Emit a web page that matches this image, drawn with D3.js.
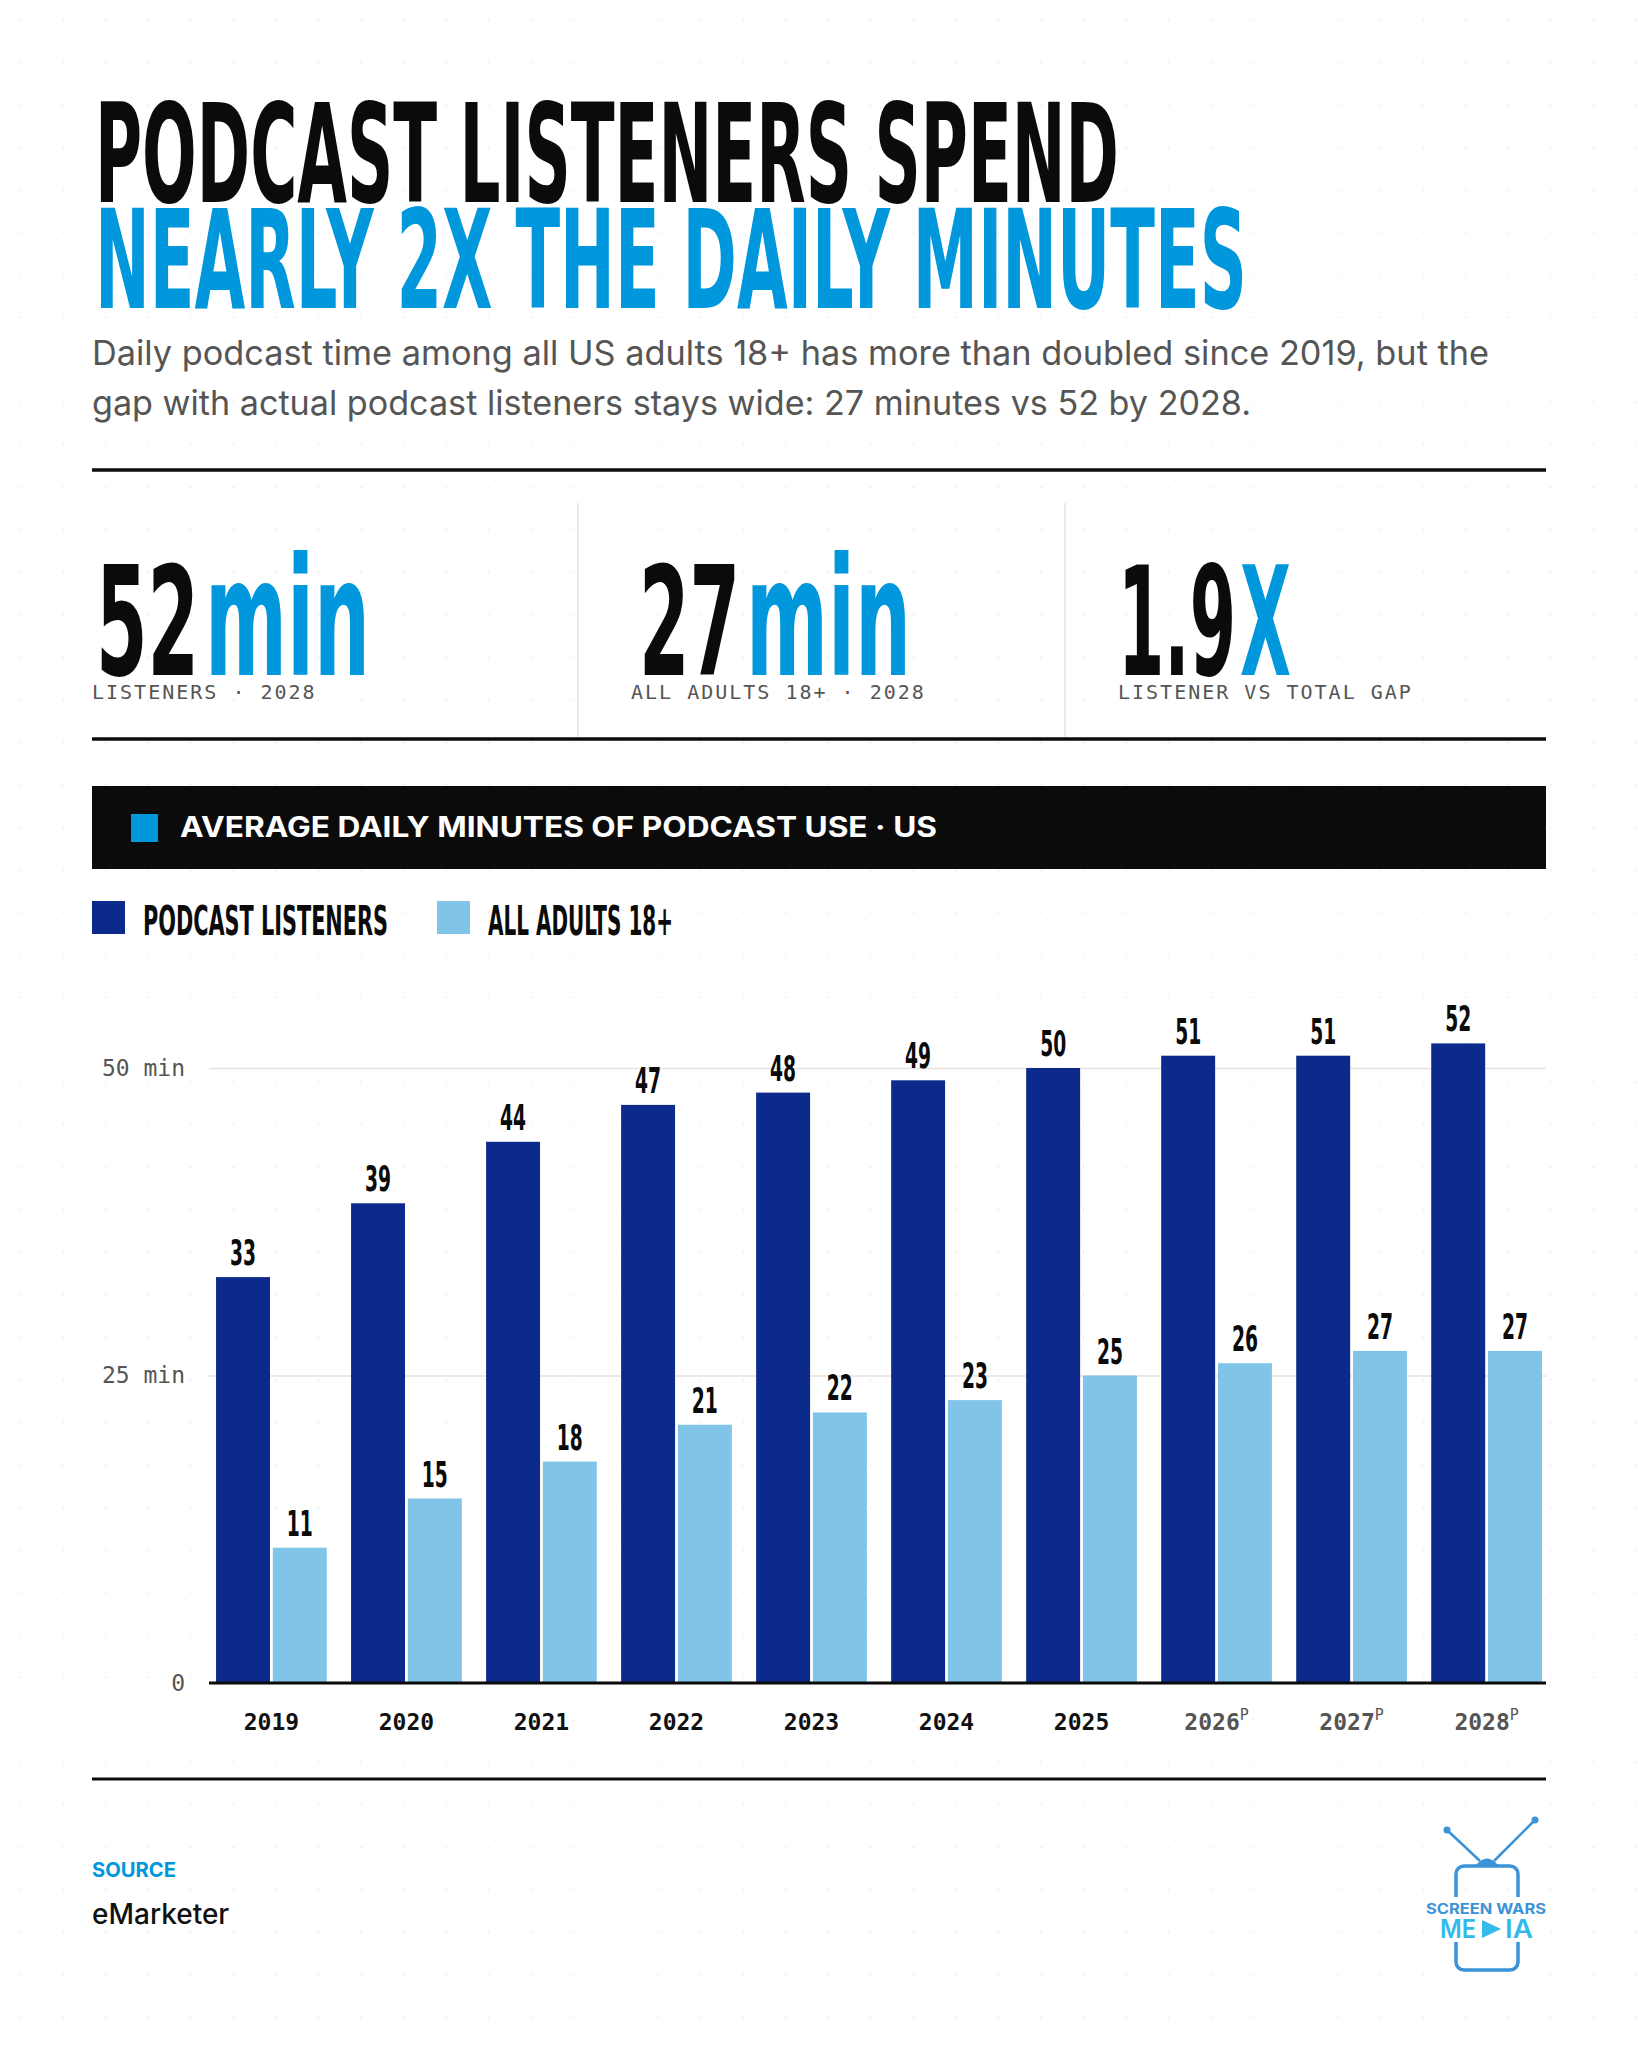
<!DOCTYPE html>
<html>
<head>
<meta charset="utf-8">
<script src="https://cdn.jsdelivr.net/npm/d3@7"></script>
<style>
  html, body { margin: 0; padding: 0; background: #fff; }
  svg { display: block; }
</style>
</head>
<body>
<svg id="chart" width="1638" height="2048"></svg>
<script>
"use strict";

// data
const years = ["2019", "2020", "2021", "2022", "2023", "2024", "2025", "2026", "2027", "2028"];
const projected = [false, false, false, false, false, false, false, true, true, true];
const listeners = [33, 39, 44, 47, 48, 49, 50, 51, 51, 52];
const allAdults = [11, 15, 18, 21, 22, 23, 25, 26, 27, 27];
const seriesNames = ["PODCAST LISTENERS", "ALL ADULTS 18+"];
const seriesColors = ["#0b2a8c", "#80c4e8"];
const yTicks = [0, 25, 50];

const kpiValues = ["52", "27", "1.9"];
const kpiUnits = ["min", "min", "X"];
const kpiLabels = ["LISTENERS · 2028", "ALL ADULTS 18+ · 2028", "LISTENER VS TOTAL GAP"];

const COND = "'Liberation Sans Narrow','DejaVu Sans Condensed','Roboto',sans-serif";
const SANS = "Inter,'Noto Sans',Roboto,sans-serif";
const MONO = "'DejaVu Sans Mono','Liberation Mono',monospace";
const BLUE = "#0097dd";
const INK = "#0b0b0b";

const svg = d3.select("#chart");
const L = 92, R = 1546;

// faint dot background
const defs = svg.append("defs");
defs.append("pattern")
  .attr("id", "dots")
  .attr("patternUnits", "userSpaceOnUse")
  .attr("x", 0).attr("y", 0)
  .attr("width", 42.5).attr("height", 42.5)
  .append("circle")
  .attr("cx", 21).attr("cy", 20).attr("r", 1.1)
  .attr("fill", "#efefef");
svg.append("rect").attr("width", 1638).attr("height", 2048).attr("fill", "#fff");
svg.append("rect").attr("width", 1638).attr("height", 2048).attr("fill", "url(#dots)");

// helper for squeezed condensed text
function condText(g, str, x, y, size, width, fill) {
  return g.append("text")
    .attr("x", x).attr("y", y)
    .attr("font-family", COND)
    .attr("font-weight", 700)
    .attr("font-size", size)
    .attr("textLength", width)
    .attr("lengthAdjust", "spacingAndGlyphs")
    .attr("fill", fill)
    .text(str);
}

// title
condText(svg, "PODCAST LISTENERS SPEND", 95, 202, 137, 1024, INK);
condText(svg, "NEARLY 2X THE DAILY MINUTES", 95, 308, 137, 1152, BLUE);

const sub = [
  ["Daily podcast time among all US adults 18+ has more than doubled since 2019, but the", 1397],
  ["gap with actual podcast listeners stays wide: 27 minutes vs 52 by 2028.", 1159]
];
svg.selectAll("text.sub").data(sub).enter().append("text")
  .attr("class", "sub")
  .attr("x", L).attr("y", (d, i) => 365 + i * 50)
  .attr("font-family", SANS).attr("font-size", 34)
  .attr("textLength", d => d[1]).attr("lengthAdjust", "spacingAndGlyphs")
  .attr("fill", "#555").text(d => d[0]);

svg.append("line").attr("x1", L).attr("x2", R).attr("y1", 470).attr("y2", 470)
  .attr("stroke", INK).attr("stroke-width", 3.5);

// KPI row
[578, 1065].forEach(x => {
  svg.append("line").attr("x1", x).attr("x2", x).attr("y1", 503).attr("y2", 737)
    .attr("stroke", "#e6e3dc").attr("stroke-width", 1.5);
});
const kpiX = [96, 639, 1118];
const kpiNumW = [103, 101, 118];
const kpiUnitW = [165, 165, 51];
const kpiLabelX = [92, 631, 1118];
kpiValues.forEach((v, i) => {
  condText(svg, v, kpiX[i], 675, 151, kpiNumW[i], INK);
  const ux = kpiX[i] + kpiNumW[i] + 4;
  if (kpiUnits[i] === "min") condText(svg, kpiUnits[i], ux + 2, 675, 164, kpiUnitW[i], BLUE);
  else condText(svg, kpiUnits[i], ux, 675, 151, kpiUnitW[i], BLUE);
  svg.append("text")
    .attr("x", kpiLabelX[i]).attr("y", 699)
    .attr("font-family", MONO).attr("font-size", 20)
    .attr("letter-spacing", 2).attr("fill", "#555")
    .text(kpiLabels[i]);
});
svg.append("line").attr("x1", L).attr("x2", R).attr("y1", 739).attr("y2", 739)
  .attr("stroke", INK).attr("stroke-width", 3.5);

// section header bar
svg.append("rect").attr("x", L).attr("y", 786).attr("width", R - L).attr("height", 83).attr("fill", INK);
svg.append("rect").attr("x", 131).attr("y", 814).attr("width", 27).attr("height", 28).attr("fill", BLUE);
svg.append("text")
  .attr("x", 180).attr("y", 837)
  .attr("font-family", SANS).attr("font-weight", 700).attr("font-size", 28)
  .attr("textLength", 757).attr("lengthAdjust", "spacingAndGlyphs")
  .attr("fill", "#fff")
  .text("AVERAGE DAILY MINUTES OF PODCAST USE · US");

// legend
const legX = [92, 437];
const legW = [245, 185];
seriesNames.forEach((s, i) => {
  svg.append("rect").attr("x", legX[i]).attr("y", 901).attr("width", 33).attr("height", 33)
    .attr("fill", seriesColors[i]);
  condText(svg, s, legX[i] + 51, 935, 41, legW[i], INK);
});

// chart
const plotL = 209;
const y = d3.scaleLinear().domain([0, 50]).range([1683, 1068]);
const x0 = d3.scaleBand().domain(years).range([212, 1546]).paddingInner(0.18).paddingOuter(0.03);
const x1 = d3.scaleBand().domain([0, 1]).range([0, x0.bandwidth()]).paddingInner(0.05);

const yAxis = d3.axisLeft(y)
  .tickValues(yTicks)
  .tickSize(-(R - plotL))
  .tickPadding(24)
  .tickFormat(d => d === 0 ? "0" : d + " min");
const gy = svg.append("g").attr("transform", `translate(${plotL},0)`).call(yAxis);
gy.select(".domain").remove();
gy.selectAll(".tick line").attr("stroke", "#e6e2da").attr("stroke-width", 1.5);
gy.selectAll(".tick text")
  .attr("font-family", MONO).attr("font-size", 23).attr("fill", "#555");

const rows = years.map((yr, i) => ({ year: yr, vals: [listeners[i], allAdults[i]] }));
const groups = svg.append("g").selectAll("g")
  .data(rows).enter().append("g")
  .attr("transform", d => `translate(${x0(d.year)},0)`);

groups.selectAll("rect")
  .data(d => d.vals.map((v, k) => ({ v, k })))
  .enter().append("rect")
  .attr("x", d => x1(d.k))
  .attr("y", d => y(d.v))
  .attr("width", x1.bandwidth())
  .attr("height", d => y(0) - y(d.v))
  .attr("fill", d => seriesColors[d.k]);

groups.selectAll("text.val")
  .data(d => d.vals.map((v, k) => ({ v, k })))
  .enter().append("text")
  .attr("class", "val")
  .attr("x", d => x1(d.k) + x1.bandwidth() / 2)
  .attr("y", d => y(d.v) - 12)
  .attr("text-anchor", "middle")
  .attr("font-family", COND).attr("font-weight", 700).attr("font-size", 36)
  .attr("textLength", d => String(d.v).length * 13)
  .attr("lengthAdjust", "spacingAndGlyphs")
  .attr("fill", INK)
  .text(d => d.v);

// baseline
svg.append("line").attr("x1", plotL).attr("x2", R).attr("y1", y(0)).attr("y2", y(0))
  .attr("stroke", INK).attr("stroke-width", 3);

// x axis labels
const xAxis = d3.axisBottom(x0).tickSize(0).tickPadding(0);
const gx = svg.append("g").attr("transform", `translate(0,1730)`).call(xAxis);
gx.select(".domain").remove();
gx.selectAll(".tick text")
  .attr("y", 0).attr("dy", 0)
  .attr("font-family", MONO).attr("font-size", 23).attr("font-weight", 700)
  .attr("fill", (d, i) => projected[i] ? "#555" : "#111")
  .each(function (d, i) {
    if (projected[i]) {
      d3.select(this).append("tspan")
        .attr("font-size", 15).attr("dy", -10).attr("font-weight", 400)
        .text("P");
    }
  });

svg.append("line").attr("x1", L).attr("x2", R).attr("y1", 1779).attr("y2", 1779)
  .attr("stroke", INK).attr("stroke-width", 3);

// source
svg.append("text").attr("x", L).attr("y", 1877)
  .attr("font-family", SANS).attr("font-weight", 700).attr("font-size", 20)
  .attr("textLength", 84).attr("lengthAdjust", "spacingAndGlyphs")
  .attr("fill", BLUE).text("SOURCE");
svg.append("text").attr("x", L).attr("y", 1924)
  .attr("font-family", SANS).attr("font-weight", 500).attr("font-size", 28)
  .attr("fill", "#111").text("eMarketer");

// logo
const logo = svg.append("g");
const LC = "#3a92d8";
logo.append("line").attr("x1", 1447).attr("y1", 1830).attr("x2", 1480).attr("y2", 1861)
  .attr("stroke", LC).attr("stroke-width", 2.5);
logo.append("line").attr("x1", 1535).attr("y1", 1820).attr("x2", 1494).attr("y2", 1861)
  .attr("stroke", LC).attr("stroke-width", 2.5);
logo.append("circle").attr("cx", 1447).attr("cy", 1830).attr("r", 3.5).attr("fill", LC);
logo.append("circle").attr("cx", 1535).attr("cy", 1820).attr("r", 3.5).attr("fill", LC);
logo.append("path").attr("d", "M1476,1865 Q1487,1852 1498,1865 Z").attr("fill", LC);
logo.append("rect").attr("x", 1456).attr("y", 1866).attr("width", 62).attr("height", 104)
  .attr("rx", 8).attr("fill", "none").attr("stroke", LC).attr("stroke-width", 3.5);
logo.append("rect").attr("x", 1424).attr("y", 1897).attr("width", 126).attr("height", 45).attr("fill", "#fff");
logo.append("text").attr("x", 1426).attr("y", 1914)
  .attr("font-family", SANS).attr("font-weight", 700).attr("font-size", 14)
  .attr("textLength", 120).attr("lengthAdjust", "spacingAndGlyphs")
  .attr("fill", LC).text("SCREEN WARS");
logo.append("text").attr("x", 1440).attr("y", 1938)
  .attr("font-family", SANS).attr("font-weight", 600).attr("font-size", 25)
  .attr("textLength", 36).attr("lengthAdjust", "spacingAndGlyphs")
  .attr("fill", "#35b9ea").text("ME");
logo.append("path").attr("d", "M1482,1920 L1501,1929 L1482,1938 Z").attr("fill", "#35b9ea");
logo.append("text").attr("x", 1505).attr("y", 1938)
  .attr("font-family", SANS).attr("font-weight", 600).attr("font-size", 25)
  .attr("textLength", 28).attr("lengthAdjust", "spacingAndGlyphs")
  .attr("fill", "#35b9ea").text("IA");
</script>
</body>
</html>
